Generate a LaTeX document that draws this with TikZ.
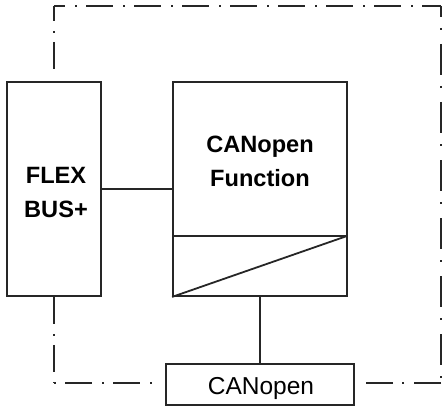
\documentclass[tikz,border=0pt]{standalone}
\usepackage{fontspec}
\setmainfont{Liberation Sans}
\begin{document}
\begin{tikzpicture}[x=1pt,y=-1pt,
  box/.style={draw=black!85,line width=1.8pt,inner sep=0pt},
  wire/.style={draw=black!85,line width=1.2pt},
  ddh/.style={draw=black!85,line width=1.2pt,dash pattern=on 27pt off 10pt on 2pt off 9pt},
  ddv/.style={draw=black!85,line width=1.2pt,dash pattern=on 31pt off 11pt on 2pt off 14pt},
  bigtxt/.style={font=\fontsize{23.6}{34}\selectfont\bfseries,align=center,inner sep=0pt},
  smalltxt/.style={font=\fontsize{24.5}{30}\selectfont,inner sep=0pt}]
\useasboundingbox (0,0) rectangle (443,406);
\node[box,minimum width=94pt,minimum height=214pt] (flex) at (54,189) {};
\node[box,minimum width=174pt,minimum height=214pt] (func) at (260,189) {};
\node[box,minimum width=188pt,minimum height=41pt] (can) at (260,384.5) {};
\node[bigtxt] (flextxt) at (56,192) {FLEX\\BUS+};
\node[bigtxt] (functxt) at (260,161.5) {CANopen\\Function};
\node[smalltxt] (cantxt) at (261,388) {CANopen};
\coordinate (dl) at (173,236);
\coordinate (dr) at (347,236);
\draw[wire] (dl) -- (dr);
\draw[box] (func.south west) -- (dr);
\draw[wire] (flex.east) -- (func.west);
\draw[wire] (func.south) -- (can.north);
\coordinate (tl) at (54,6);
\coordinate (tr) at (441,6);
\coordinate (br) at (441,383);
\coordinate (bl) at (54,383);
\draw[ddh,dash phase=12pt] (tl) -- ([yshift=10pt]flex.north);
\draw[ddh,dash phase=16pt] (tl) -- (tr);
\draw[ddv,dash phase=20pt] (tr) -- (br);
\draw[ddh] (br) -- ([xshift=7pt]can.east |- br);
\draw[ddh] (flex.south) -- (bl);
\draw[ddh,dash phase=37pt] (bl) -- ([xshift=-6pt]can.west |- bl);
\end{tikzpicture}
\end{document}
